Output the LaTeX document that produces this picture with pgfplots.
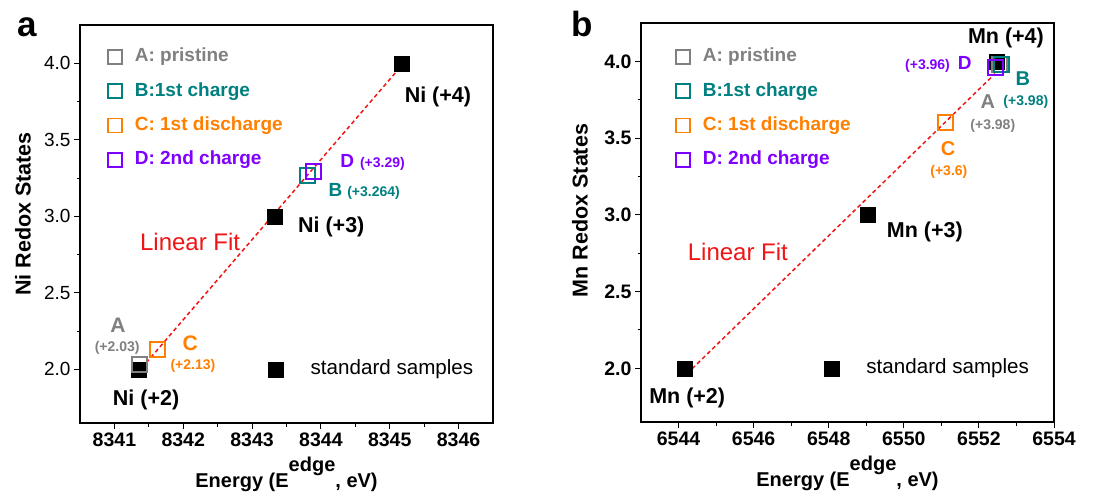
\documentclass[border=0pt]{standalone}
\usepackage{pgfplots}
\pgfplotsset{compat=1.18}
\usepackage{fontspec}
\setmainfont{Liberation Sans}

\definecolor{cA}{RGB}{128,128,128}
\definecolor{cB}{RGB}{0,128,128}
\definecolor{cC}{RGB}{255,128,0}
\definecolor{cD}{RGB}{128,0,255}
\definecolor{fitred}{RGB}{240,20,20}

\newcommand{\fs}[1]{\fontsize{#1}{#1}\selectfont}

\pgfplotsset{
  redox/.style={
    scale only axis, width=413pt, height=398pt,
    ymin=1.65, ymax=4.25,
    ytick={2,2.5,3,3.5,4},
    minor x tick num=1, minor y tick num=1,
    tick align=outside,
    xtick pos=left, ytick pos=left,
    major tick length=6pt, minor tick length=3.5pt,
    every tick/.style={black, line width=1pt},
    axis line style={line width=1.4pt},
    scaled ticks=false,
    /pgf/number format/assume math mode=true,
    yticklabel style={/pgf/number format/fixed, /pgf/number format/fixed zerofill, /pgf/number format/precision=1},
    xticklabel style={/pgf/number format/1000 sep={}, font=\fs{19.5}\bfseries},
    xlabel style={font=\fs{20}\bfseries, at={(axis description cs:0.5,-0.161)}, anchor=base},
    ylabel style={font=\fs{21.5}\bfseries, anchor=center},
    clip=false,
    legend cell align=left,
    legend style={draw=none, fill=none, inner sep=0pt, column sep=11pt, row sep=12.3pt,
      nodes={inner sep=2pt, text height=14pt, text depth=4pt, font=\fs{19}\bfseries}},
    legend image post style={mark size=7pt, line width=1.8pt},
    std/.style={only marks, mark=square*, mark size=7.5pt, black},
    smp/.style={only marks, mark=square, mark size=7.5pt, line width=2pt},
    fit/.style={fitred, line width=1.5pt, dash pattern=on 4pt off 3pt},
    every node/.append style={inner sep=0pt},
  }
}

\begin{document}
\begin{tikzpicture}
\useasboundingbox (0,0) rectangle (1110pt,491pt);

% ---------------- panel a: Ni ----------------
\begin{axis}[redox,
  at={(80pt,68pt)}, anchor=south west,
  xmin=8340.5, xmax=8346.5,
  xtick={8341,8342,8343,8344,8345,8346},
  yticklabel style={font=\fs{19}},
  xlabel={Energy (E\raisebox{16pt}{edge}, eV)},
  ylabel={Ni Redox States},
  ylabel style={at={(axis description cs:-0.138,0.525)}},
  legend style={at={(axis description cs:0.067,0.948)}, anchor=north west},
]
% standard samples Ni(+2), Ni(+3), Ni(+4)
\addplot[std, forget plot] coordinates {(8341.36,2.0) (8343.33,3.0) (8345.18,4.0)};
% key marker for the standards
\addplot[std, forget plot] coordinates {(8343.35,2.0)};
\addplot[smp, cA] coordinates {(8341.36,2.03)};
\addlegendentry{\textcolor{cA}{A: pristine}}
\addplot[smp, cB] coordinates {(8343.81,3.264)};
\addlegendentry{\textcolor{cB}{B:1st charge}}
\addplot[smp, cC] coordinates {(8341.63,2.13)};
\addlegendentry{\textcolor{cC}{C: 1st discharge}}
\addplot[smp, cD] coordinates {(8343.89,3.29)};
\addlegendentry{\textcolor{cD}{D: 2nd charge}}
% linear fit through the standards
\addplot[fit, forget plot] coordinates {(8341.33,1.974) (8345.10,3.947)};

\node[font=\fs{21.5}\bfseries] at (axis cs:8345.70,3.78) {Ni (+4)};
\node[font=\fs{21.5}\bfseries] at (axis cs:8344.15,2.93) {Ni (+3)};
\node[font=\fs{21.5}\bfseries] at (axis cs:8341.46,1.80) {Ni (+2)};
\node[font=\fs{19}\bfseries, text=cD, anchor=west] at (axis cs:8344.23,3.35) {D\hspace{6pt}{\fs{14}(+3.29)}};
\node[font=\fs{19}\bfseries, text=cB, anchor=west] at (axis cs:8344.06,3.16) {B\hspace{5pt}{\fs{14}(+3.264)}};
\node[font=\fs{21}\bfseries, text=cA] at (axis cs:8341.05,2.29) {A};
\node[font=\fs{14}\bfseries, text=cA] at (axis cs:8341.04,2.14) {(+2.03)};
\node[font=\fs{21}\bfseries, text=cC] at (axis cs:8342.10,2.17) {C};
\node[font=\fs{14}\bfseries, text=cC] at (axis cs:8342.14,2.02) {(+2.13)};
\node[font=\fs{24}, text=fitred] at (axis cs:8342.10,2.83) {Linear Fit};
\node[font=\fs{20.6}, anchor=west] at (axis cs:8343.80,2.0) {standard samples};
\end{axis}

% ---------------- panel b: Mn ----------------
\begin{axis}[redox,
  at={(641pt,69pt)}, anchor=south west, height=399pt,
  xmin=6543, xmax=6554,
  xtick={6544,6546,6548,6550,6552,6554},
  yticklabel style={font=\fs{19.5}\bfseries},
  xlabel={Energy (E\raisebox{16pt}{edge}, eV)},
  ylabel={Mn Redox States},
  ylabel style={at={(axis description cs:-0.148,0.53)}},
  legend style={at={(axis description cs:0.084,0.943)}, anchor=north west},
]
% standard samples Mn(+2), Mn(+3), Mn(+4)
\addplot[std, forget plot] coordinates {(6544.17,2.0) (6549.05,3.0) (6552.48,4.0)};
% key marker for the standards
\addplot[std, forget plot] coordinates {(6548.09,2.0)};
\addplot[smp, cA] coordinates {(6552.55,3.98)};
\addlegendentry{\textcolor{cA}{A: pristine}}
\addplot[smp, cB] coordinates {(6552.61,3.98)};
\addlegendentry{\textcolor{cB}{B:1st charge}}
\addplot[smp, cC] coordinates {(6551.12,3.6)};
\addlegendentry{\textcolor{cC}{C: 1st discharge}}
\addplot[smp, cD] coordinates {(6552.45,3.96)};
\addlegendentry{\textcolor{cD}{D: 2nd charge}}
% linear fit through the standards
\addplot[fit, forget plot] coordinates {(6544.23,1.966) (6552.43,3.92)};

\node[font=\fs{21.5}\bfseries] at (axis cs:6552.72,4.15) {Mn (+4)};
\node[font=\fs{21.5}\bfseries] at (axis cs:6550.56,2.89) {Mn (+3)};
\node[font=\fs{21.5}\bfseries] at (axis cs:6544.23,1.81) {Mn (+2)};
\node[font=\fs{19}\bfseries, text=cD, anchor=east] at (axis cs:6551.90,3.98) {{\fs{14}(+3.96)}\hspace{8pt}D};
\node[font=\fs{20}\bfseries, text=cB] at (axis cs:6553.17,3.885) {B};
\node[font=\fs{14}\bfseries, text=cB] at (axis cs:6553.25,3.735) {(+3.98)};
\node[font=\fs{20}\bfseries, text=cA] at (axis cs:6552.24,3.74) {A};
\node[font=\fs{14}\bfseries, text=cA] at (axis cs:6552.37,3.58) {(+3.98)};
\node[font=\fs{20}\bfseries, text=cC] at (axis cs:6551.18,3.43) {C};
\node[font=\fs{14}\bfseries, text=cC] at (axis cs:6551.20,3.28) {(+3.6)};
\node[font=\fs{24}, text=fitred] at (axis cs:6545.58,2.76) {Linear Fit};
\node[font=\fs{20.6}, anchor=west] at (axis cs:6548.91,2.0) {standard samples};
\end{axis}

% panel letters
\node[font=\fs{35}\bfseries, anchor=base, inner sep=0pt] at (27.5pt,454pt) {a};
\node[font=\fs{35}\bfseries, anchor=base, inner sep=0pt] at (582.5pt,454pt) {b};
\end{tikzpicture}
\end{document}
